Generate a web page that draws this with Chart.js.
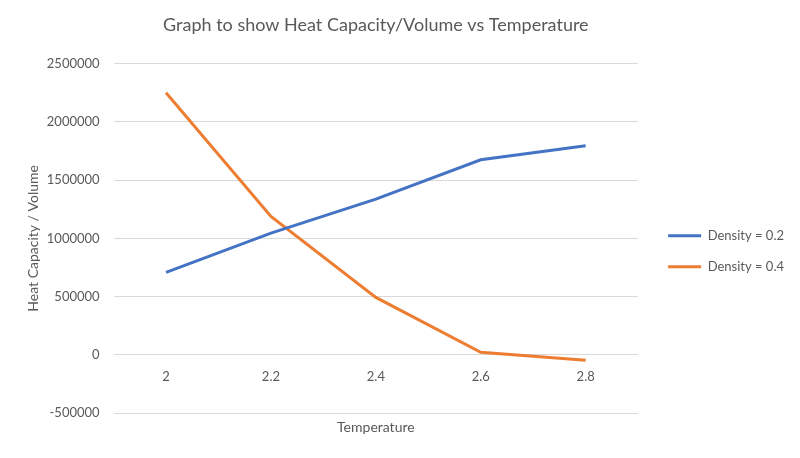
<!DOCTYPE html>
<html>
<head>
<meta charset="utf-8">
<script src="https://cdn.jsdelivr.net/npm/chart.js@4.4.1/dist/chart.umd.min.js"></script>
<style>
  html, body { margin: 0; padding: 0; background: #fff; }
  #wrap { width: 800px; height: 458px; }
</style>
</head>
<body>
<div id="wrap"><canvas id="myChart"></canvas></div>
<script>
const temperatures = ["2", "2.2", "2.4", "2.6", "2.8"];
const density02 = [709000, 1045000, 1337000, 1675000, 1796000];
const density04 = [2250000, 1188000, 494000, 23000, -46000];

const textColor = "#595959";
const gridColor = "#d9d9d9";
const fontFamily = "Lato, 'Open Sans', sans-serif";

const ctx = document.getElementById("myChart").getContext("2d");
new Chart(ctx, {
  type: "line",
  data: {
    labels: temperatures,
    datasets: [
      {
        label: "Density = 0.2",
        data: density02,
        borderColor: "#4472c4",
        backgroundColor: "#4472c4",
        borderWidth: 3,
        pointRadius: 0,
        tension: 0,
      },
      {
        label: "Density = 0.4",
        data: density04,
        borderColor: "#ed7d31",
        backgroundColor: "#ed7d31",
        borderWidth: 3,
        pointRadius: 0,
        tension: 0,
      },
    ],
  },
  options: {
    responsive: true,
    maintainAspectRatio: false,
    animation: false,
    layout: { padding: { left: 21, right: 6, top: 0, bottom: 12 } },
    plugins: {
      tooltip: { enabled: false },
      title: {
        display: true,
        text: "Graph to show Heat Capacity/Volume vs Temperature",
        color: textColor,
        fullSize: false,
        font: { family: fontFamily, size: 18, weight: "normal" },
        padding: { top: 14, bottom: 28 },
      },
      // x axis title sits at the bottom, under the -500000 line
      subtitle: {
        display: true,
        position: "bottom",
        fullSize: false,
        text: "Temperature",
        color: textColor,
        font: { family: fontFamily, size: 14, weight: "normal" },
        padding: { top: 6, bottom: 10 },
      },
      legend: {
        position: "right",
        maxWidth: 200,
        title: {
          display: true,
          text: " ",
          font: { family: fontFamily, size: 12 },
          padding: { top: 42, bottom: 0 },
        },
        labels: {
          usePointStyle: true,
          pointStyle: "line",
          pointStyleWidth: 33,
          color: textColor,
          font: { family: fontFamily, size: 13 },
          padding: 18,
        },
      },
    },
    scales: {
      x: {
        position: { y: 0 },
        offset: true,
        grid: { display: false },
        border: { display: false },
        ticks: {
          color: textColor,
          font: { family: fontFamily, size: 13 },
          padding: 6,
          maxRotation: 0,
        },
        afterFit: (scale) => {
          scale.height = 0;
        },
      },
      y: {
        min: -500000,
        max: 2500000,
        grid: { color: gridColor, drawTicks: false },
        border: { display: false },
        ticks: {
          stepSize: 500000,
          color: textColor,
          font: { family: fontFamily, size: 13 },
          padding: 14,
          callback: (value) => String(value),
        },
        title: {
          display: true,
          text: "Heat Capacity / Volume",
          color: textColor,
          font: { family: fontFamily, size: 14 },
          padding: { top: 4, bottom: -9 },
        },
      },
      // empty spacer between plot and legend
      gap: {
        type: "linear",
        position: "right",
        display: true,
        grid: { display: false },
        border: { display: false },
        ticks: { display: false },
        afterFit: (scale) => {
          scale.width = 12;
        },
      },
    },
  },
});
</script>
</body>
</html>
